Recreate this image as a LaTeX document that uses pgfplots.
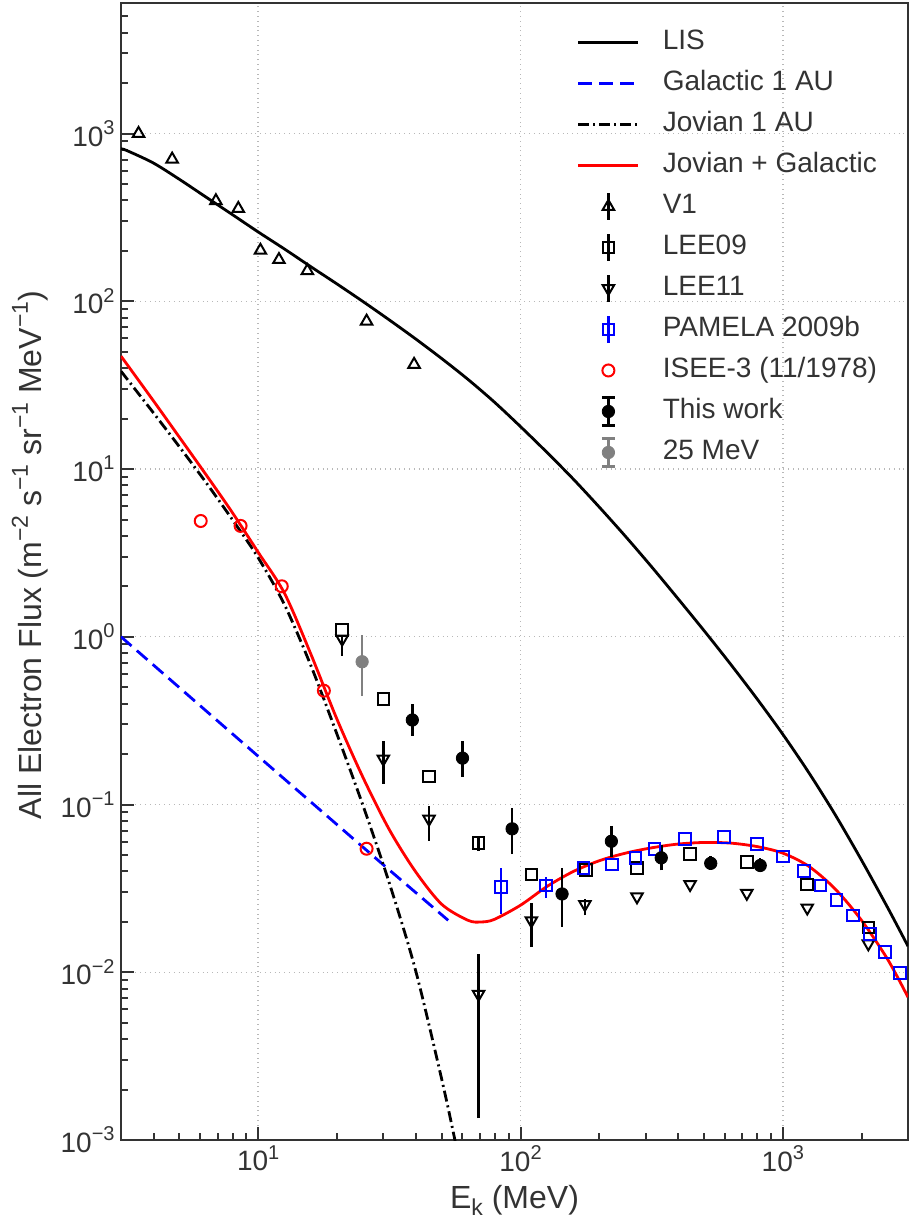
\documentclass[border=0pt]{standalone}
\usepackage{fontspec}
\setmainfont{Liberation Sans}
\usepackage{pgfplots}
\pgfplotsset{compat=1.18}
\definecolor{txt}{HTML}{333333}
\definecolor{grd}{HTML}{B8B8B8}
\definecolor{gry}{HTML}{808080}
\newcommand{\tsup}[1]{\raisebox{0.42em}{\fontsize{10}{10}\selectfont #1}}
\newcommand{\lsup}[1]{\raisebox{0.42em}{\fontsize{11.5}{11.5}\selectfont #1}}
\newcommand{\lsub}[1]{\raisebox{-0.22em}{\fontsize{11.5}{11.5}\selectfont #1}}
\pgfplotsset{
  linelegend/.style={legend image code/.code={\draw[##1] (0pt,0pt) -- (30pt,0pt);}},
  barlegend/.style={legend image code/.code={\draw[#1, line width=1.25pt, solid] (15pt,-6.7pt) -- (15pt,6.7pt); \draw[##1] plot coordinates {(15pt,0pt)};}},
  caplegend/.style={legend image code/.code={\draw[#1, line width=1.25pt, solid] (15pt,-7pt) -- (15pt,7pt); \draw[#1, line width=1.25pt] (11.7pt,-7pt) -- (18.3pt,-7pt) (11.7pt,7pt) -- (18.3pt,7pt); \draw[##1] plot coordinates {(15pt,0pt)};}},
  marklegend/.style={legend image code/.code={\draw[##1] plot coordinates {(15pt,0pt)};}},
  ebars/.style={forget plot, #1, line width=1.25pt, unbounded coords=jump},
}
\begin{document}
\begin{tikzpicture}
\begin{axis}[
  scale only axis, width=393.5pt, height=568.5pt,
  xmode=log, ymode=log,
  xmin=3, xmax=3000, ymin=1e-3, ymax=6000,
  axis line style={line width=1.3pt, draw=txt},
  tick align=inside, xtick pos=left, ytick pos=left,
  major tick length=6.5pt, minor tick length=3.5pt,
  every tick/.style={line width=1pt, draw=txt},
  xtick={10,100,1000},
  xticklabels={10\tsup{1},10\tsup{2},10\tsup{3}},
  minor xtick={4,5,6,7,8,9,20,30,40,50,60,70,80,90,200,300,400,500,600,700,800,900,2000,3000},
  ytick={1e-3,1e-2,1e-1,1,10,100,1000},
  yticklabels={10\tsup{−3},10\tsup{−2},10\tsup{−1},10\tsup{0},10\tsup{1},10\tsup{2},10\tsup{3}},
  minor ytick={2e-3,3e-3,4e-3,5e-3,6e-3,7e-3,8e-3,9e-3,2e-2,3e-2,4e-2,5e-2,6e-2,7e-2,8e-2,9e-2,0.2,0.3,0.4,0.5,0.6,0.7,0.8,0.9,2,3,4,5,6,7,8,9,20,30,40,50,60,70,80,90,200,300,400,500,600,700,800,900,2000,3000,4000,5000},
  tick label style={font=\fontsize{14}{14}\selectfont, text=txt},
  xticklabel style={inner sep=2.5pt},
  yticklabel style={inner sep=3pt},
  grid=major, major grid style={dotted, grd, line width=0.7pt},
  xlabel={E\lsub{k} (MeV)},
  ylabel={All Electron Flux (m\lsup{−2} s\lsup{−1} sr\lsup{−1} MeV\lsup{−1})},
  label style={font=\fontsize{16}{16}\selectfont, text=txt},
  xlabel style={at={(axis description cs:0.5,0)}, anchor=base, yshift=-34pt},
  ylabel style={at={(axis description cs:-0.1013,0.5145)}, anchor=base},
  legend cell align=left,
  legend style={at={(rel axis cs:0.5794,0.9833)}, anchor=north west, draw=none, fill=none,
    inner sep=0pt, outer sep=0pt, row sep=0pt, column sep=11.5pt,
    font=\fontsize{14}{14}\selectfont, text=txt,
    nodes={inner sep=0pt, text height=14pt, text depth=6.5pt}},
]
% LIS
\addplot[black, line width=1.4pt, smooth, linelegend] coordinates {
(3,811) (3.162,791) (3.981,668) (5.012,533) (6.310,419) (7.943,330) (10,259) (12.59,205) (15.85,161) (19.95,127) (25.12,99.5) (31.62,77.4) (39.81,59.7) (50.12,45.5) (63.10,34.2) (79.43,25.1) (100,17.9) (125.9,12.6) (158.5,8.75) (199.5,5.94) (251.2,3.97) (316.2,2.61) (398.1,1.69) (501.2,1.086) (631,0.689) (794.3,0.430) (1000,0.262) (1259,0.154) (1585,0.0867) (1995,0.0466) (2512,0.0242) (3000,0.0143)};
\addlegendentry{LIS}
% Galactic 1 AU
\addplot[blue, line width=1.4pt, dash pattern=on 7pt off 3.5pt, linelegend] coordinates {
(3,1.0) (10,0.194) (30,0.0437) (53,0.0204)};
\addlegendentry{Galactic 1 AU}
% Jovian 1 AU
\addplot[black, line width=1.4pt, smooth, dash pattern=on 5.5pt off 2pt on 1pt off 2pt, linelegend] coordinates {
(3,38.3) (3.981,21.7) (5.012,13.55) (6.310,8.36) (7.943,5.04) (10,2.96) (12.59,1.556) (15.85,0.679) (19.95,0.264) (25.12,0.0982) (31.62,0.0340) (39.81,0.01028) (50.12,0.00229) (56.23,0.0010) (57,0.00088)};
\addlegendentry{Jovian 1 AU}
% Jovian + Galactic
\addplot[red, line width=1.4pt, smooth, linelegend] coordinates {
(3,47.1) (3.981,25.6) (5.012,15.45) (6.310,9.31) (7.943,5.55) (10,3.19) (12.59,1.82) (15.85,0.794) (19.95,0.324) (25.12,0.1445) (31.62,0.0708) (39.81,0.0398) (50.12,0.0254) (63.10,0.0204) (70.79,0.01995) (79.43,0.02065) (100,0.0251) (125.9,0.0324) (158.5,0.0398) (199.5,0.0462) (251.2,0.0513) (316.2,0.0552) (398.1,0.0581) (501.2,0.0594) (631,0.0589) (794.3,0.0562) (1000,0.0513) (1259,0.0427) (1585,0.0313) (1995,0.0204) (2512,0.0119) (3000,0.0071)};
\addlegendentry{Jovian + Galactic}
% V1
\addplot[black, only marks, mark=triangle, mark size=3.3pt, mark options={fill=white, line width=1pt}, barlegend=black] coordinates {
(3.5,1000) (4.7,703) (6.9,397) (8.4,357) (10.2,201) (12.0,177) (15.4,152) (25.9,76) (39.3,42)};
\addlegendentry{V1}
% LEE09 error bar
\addplot[ebars=black] coordinates {(69.2,0.0529) (69.2,0.0649)};
\addplot[black, only marks, mark=square, mark size=2.9pt, mark options={fill=white, line width=1pt}, barlegend=black] table[x=x, y=y] {
x y
20.9 1.10
30.0 0.426
44.8 0.147
69.2 0.0589
110 0.0383
178 0.0407
278 0.0419
443 0.0508
729 0.0453
1239 0.0334
2118 0.0185
};
\addlegendentry{LEE09}
% LEE11 error bars
\addplot[ebars=black] coordinates {
(20.9,0.77) (20.9,1.00) (20.9,nan)
(30.0,0.133) (30.0,0.240) (30.0,nan)
(44.8,0.061) (44.8,0.0986) (44.8,nan)
(69.2,0.00135) (69.2,0.0129) (69.2,nan)
(110,0.0141) (110,0.0258) (110,nan)
(176,0.0218) (176,0.0274)};
\addplot[black, only marks, mark=triangle, mark size=3.3pt, mark options={fill=white, line width=1pt, rotate=180}, barlegend=black] table[x=x, y=y] {
x y
20.9 0.97
30.0 0.187
44.8 0.082
69.2 0.0074
110 0.0203
176 0.0254
278 0.0282
443 0.0334
729 0.0296
1239 0.0242
2118 0.0148
};
\addlegendentry{LEE11}
% PAMELA error bars
\addplot[ebars=blue] coordinates {
(84.2,0.0223) (84.2,0.0419) (84.2,nan)
(125,0.0279) (125,0.0369)};
\addplot[blue, only marks, mark=square, mark size=2.9pt, mark options={fill=white, line width=1pt}, barlegend=blue] table[x=x, y=y] {
x y
84.2 0.0322
125 0.0329
174 0.0419
223 0.0439
274 0.0481
324 0.0544
423 0.0624
598 0.0638
799 0.0582
1000 0.0490
1203 0.0400
1393 0.0329
1600 0.0270
1853 0.0218
2147 0.0169
2452 0.0132
2800 0.0099
};
\addlegendentry{PAMELA 2009b}
% ISEE-3
\addplot[red, only marks, mark=o, mark size=3pt, mark options={fill=white, line width=1pt}, marklegend] coordinates {
(6.04,4.9) (8.57,4.58) (12.3,2.0) (17.8,0.477) (25.9,0.0545)};
\addlegendentry{ISEE-3 (11/1978)}
% This work
\addplot[black, only marks, mark=*, mark size=3.1pt, caplegend=black,
  error bars/.cd, y dir=both, y explicit, error mark=-, error mark options={line width=1.25pt, mark size=3.5pt}, error bar style={line width=1.25pt}]
  table[x=x, y=y, y error plus=ep, y error minus=em] {
x y ep em
38.7 0.319 0.040 0.037
60.1 0.189 0.027 0.028
92.9 0.0716 0.0148 0.0159
144 0.0293 0.0088 0.0088
222 0.0604 0.0074 0.0072
344 0.0481 0.0039 0.0035
531 0.0446 0 0
820 0.0433 0 0
};
\addlegendentry{This work}
% 25 MeV
\addplot[gry, only marks, mark=*, mark size=3.1pt, caplegend=gry,
  error bars/.cd, y dir=both, y explicit, error mark=-, error mark options={line width=1.25pt, mark size=3.5pt}, error bar style={line width=1.25pt}]
  table[x=x, y=y, y error plus=ep, y error minus=em] {
x y ep em
24.9 0.71 0.215 0.222
};
\addlegendentry{25 MeV}
\end{axis}
\pgfresetboundingbox
\path[use as bounding box] ([shift={(-60.5pt,-38.5pt)}]current axis.south west) rectangle ([shift={(1pt,1.5pt)}]current axis.north east);
\end{tikzpicture}
\end{document}
